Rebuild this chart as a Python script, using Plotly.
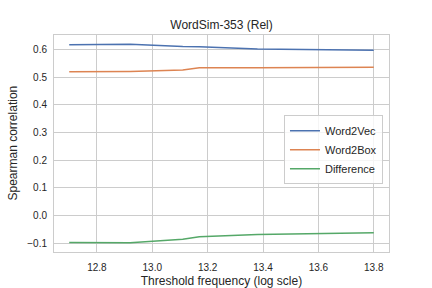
import plotly.graph_objects as go

x_vals = [12.70, 12.92, 13.11, 13.17, 13.38, 13.60, 13.80]
word2vec = [0.616, 0.618, 0.610, 0.609, 0.601, 0.599, 0.597]
word2box = [0.519, 0.520, 0.525, 0.533, 0.533, 0.534, 0.535]
difference = [-0.097, -0.098, -0.085, -0.076, -0.068, -0.065, -0.062]

x_ticks = [12.8, 13.0, 13.2, 13.4, 13.6, 13.8]
y_ticks = [-0.1, 0.0, 0.1, 0.2, 0.3, 0.4, 0.5, 0.6]
y_tick_text = ["\u22120.1", "0.0", "0.1", "0.2", "0.3", "0.4", "0.5", "0.6"]

font = "Liberation Sans, Arial, sans-serif"
fig = go.Figure()
for name, ys, color in [("Word2Vec", word2vec, "#4c72b0"),
                        ("Word2Box", word2box, "#dd8452"),
                        ("Difference", difference, "#55a868")]:
    fig.add_trace(go.Scatter(x=x_vals, y=ys, mode="lines", name=name,
                             line=dict(color=color, width=1.5)))

fig.update_layout(
    width=432, height=288,
    margin=dict(l=54, r=43, t=35, b=36),
    paper_bgcolor="white", plot_bgcolor="white",
    font=dict(family=font, size=10, color="#262626"),
    title=dict(text="WordSim-353 (Rel)", x=0.5, xref="paper", xanchor="center",
               y=1 - 25 / 288, yanchor="middle", font=dict(size=12, color="#262626")),
    showlegend=True,
    legend=dict(x=0.982, y=0.63, xanchor="right", yanchor="top",
                bgcolor="rgba(255,255,255,0.8)", bordercolor="#cccccc", borderwidth=1,
                font=dict(size=11), tracegroupgap=0, itemwidth=30),
    annotations=[dict(text="Spearman correlation", textangle=-90,
                      xref="paper", yref="paper", x=0, y=0.5,
                      xanchor="center", yanchor="middle", xshift=-42,
                      showarrow=False, font=dict(size=12, color="#262626"))],
)
fig.update_xaxes(range=[12.645, 13.855], tickvals=x_ticks,
                 ticktext=[f"{v:.1f}" for v in x_ticks],
                 showgrid=True, gridcolor="#cccccc", gridwidth=1,
                 showline=True, linecolor="#cccccc", linewidth=1, mirror=True,
                 ticks="", zeroline=False, ticklabelstandoff=6, automargin=False,
                 title=dict(text="Threshold frequency (log scle)", font=dict(size=12)))
fig.update_yaxes(range=[-0.1314, 0.6516], tickvals=y_ticks, ticktext=y_tick_text,
                 showgrid=True, gridcolor="#cccccc", gridwidth=1,
                 showline=True, linecolor="#cccccc", linewidth=1, mirror=True,
                 ticks="", zeroline=False, ticklabelstandoff=4, automargin=False)

fig.write_html("out.html", config={"displayModeBar": False},
               post_script="document.body.style.margin='0px';")
